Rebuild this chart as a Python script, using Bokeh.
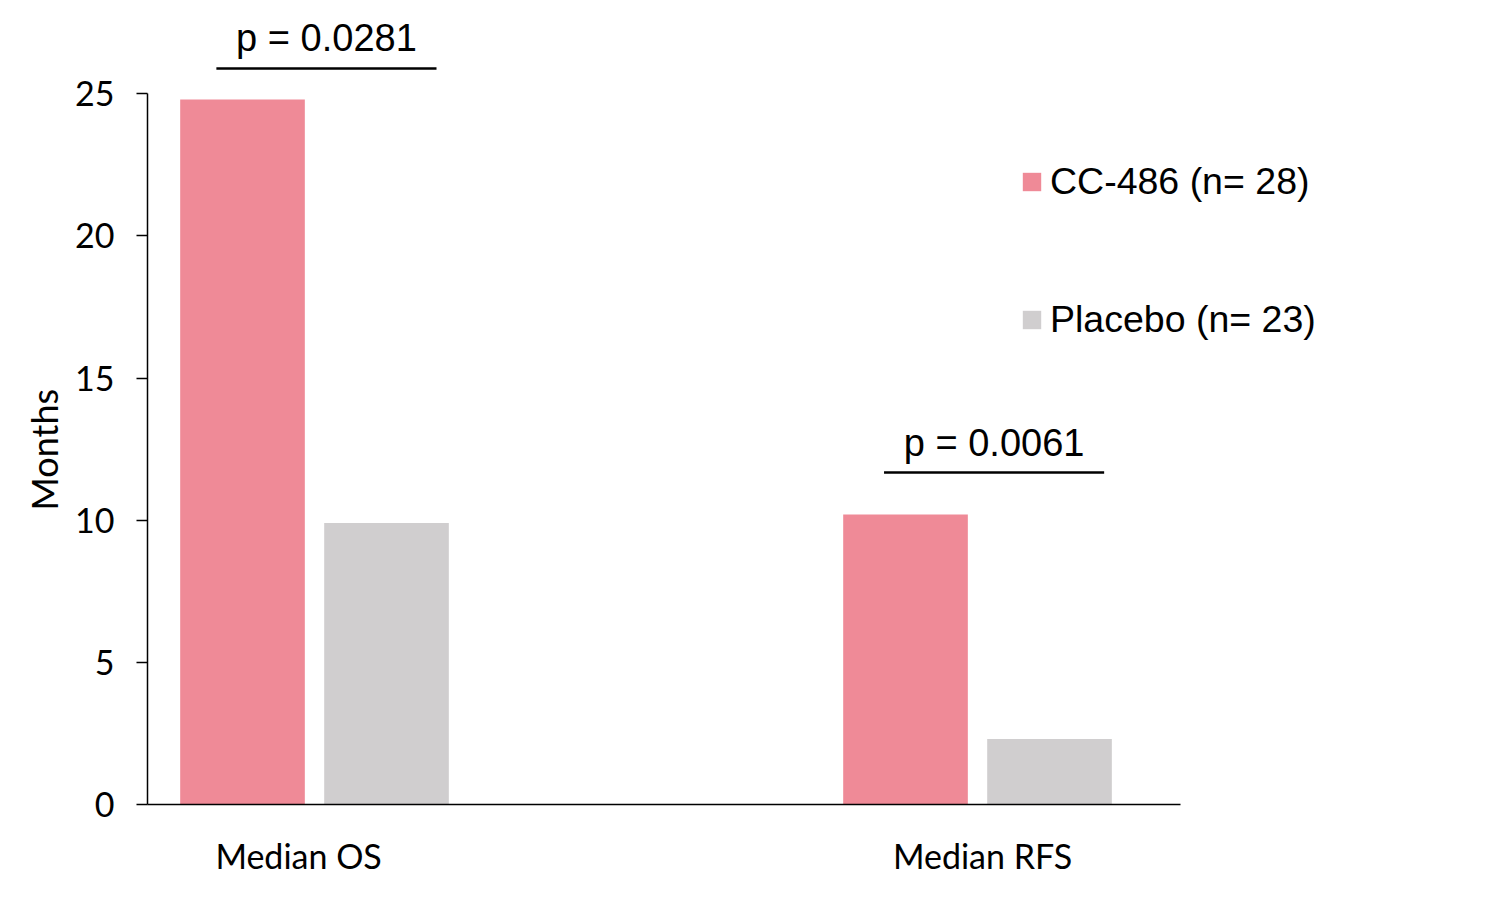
from bokeh.plotting import figure
from bokeh.models import Range1d, FixedTicker, Legend, LegendItem, ColumnDataSource, Title
from bokeh.core.properties import value
from bokeh.embed import file_html
from bokeh.resources import INLINE

# ---- data ----
categories = ["Median OS", "Median RFS"]
series_names = ["CC-486 (n= 28)", "Placebo (n= 23)"]
cc486_values = [24.8, 10.2]
placebo_values = [9.9, 2.3]
p_labels = ["p = 0.0281", "p = 0.0061"]
y_ticks = [0, 5, 10, 15, 20, 25]
y_title = "Months"

# ---- style ----
PINK = "#EF8A97"
GREY = "#D0CECF"
CAL = "Lato"
ARIAL = "Liberation Sans"

group_pos = [1, 2]
bar_w = 0.188
offs = [-0.1086, 0.1086]
x_start = 0.7481
x_axis_end = 2.3062

p = figure(width=1490, height=896, output_backend="svg", toolbar_location=None,
           x_range=Range1d(x_start, 2.5324), y_range=Range1d(0, 27.86),
           min_border_left=147, min_border_right=160, min_border_top=12, min_border_bottom=92)
p.outline_line_color = None
p.grid.visible = False
p.background_fill_color = "white"
p.border_fill_color = "white"

src_cc = ColumnDataSource(dict(x=[g + offs[0] for g in group_pos], top=cc486_values))
src_pl = ColumnDataSource(dict(x=[g + offs[1] for g in group_pos], top=placebo_values))
r1 = p.vbar(x="x", top="top", width=bar_w, source=src_cc, fill_color=PINK, line_color=None)
r2 = p.vbar(x="x", top="top", width=bar_w, source=src_pl, fill_color=GREY, line_color=None)

# p-value annotations (above each group)
ann_text_y = [26.98, 12.73]
ann_line_y = [25.89, 11.68]
ann_cx = [1.018, 2.025]
half = 0.166
p.text(x=ann_cx, y=ann_text_y, text=p_labels, text_align="center", text_baseline="middle",
       text_font=value(ARIAL), text_font_size="38px", text_color="black")
p.segment(x0=[c - half for c in ann_cx], x1=[c + half for c in ann_cx],
          y0=ann_line_y, y1=ann_line_y, line_color="black", line_width=2.5)

# axes
label_offsets = [-0.024, 0.0075]
xa = p.xaxis[0]
xa.bounds = (x_start, x_axis_end)
xa.ticker = FixedTicker(ticks=[g + o for g, o in zip(group_pos, label_offsets)])
xa.major_label_overrides = {g + o: c for g, o, c in zip(group_pos, label_offsets, categories)}
xa.major_tick_line_color = None
xa.minor_tick_line_color = None
xa.major_tick_out = 0
xa.major_label_standoff = 30
xa.axis_line_color = "black"
xa.axis_line_width = 1.5
xa.major_label_text_font = CAL
xa.major_label_text_font_size = "34px"
xa.major_label_text_color = "black"

ya = p.yaxis[0]
ya.ticker = FixedTicker(ticks=y_ticks)
ya.bounds = (0, 25)
ya.minor_tick_line_color = None
ya.major_tick_out = 11
ya.major_tick_in = 0
ya.major_tick_line_width = 1.5
ya.major_label_standoff = 22
ya.axis_line_color = "black"
ya.axis_line_width = 1.5
ya.major_label_text_font = CAL
ya.major_label_text_font_size = "34px"
ya.major_label_text_color = "black"

# y-axis title, centred on the 0..25 span of the axis (not on the whole frame)
p.add_layout(Title(text=y_title, align="left", offset=294, vertical_align="middle",
                   text_font=CAL, text_font_size="36px", text_font_style="normal",
                   text_color="black", standoff=11), "left")

legend = Legend(items=[LegendItem(label=series_names[0], renderers=[r1]),
                       LegendItem(label=series_names[1], renderers=[r2])],
                location=(873, 463), orientation="vertical",
                glyph_width=23, glyph_height=23, label_standoff=7,
                label_text_font=ARIAL, label_text_font_size="37.5px",
                label_text_color="black",
                spacing=95, padding=0, margin=0,
                border_line_color=None, background_fill_alpha=0)
p.add_layout(legend)

open("out.html", "w").write(file_html(p, INLINE))
